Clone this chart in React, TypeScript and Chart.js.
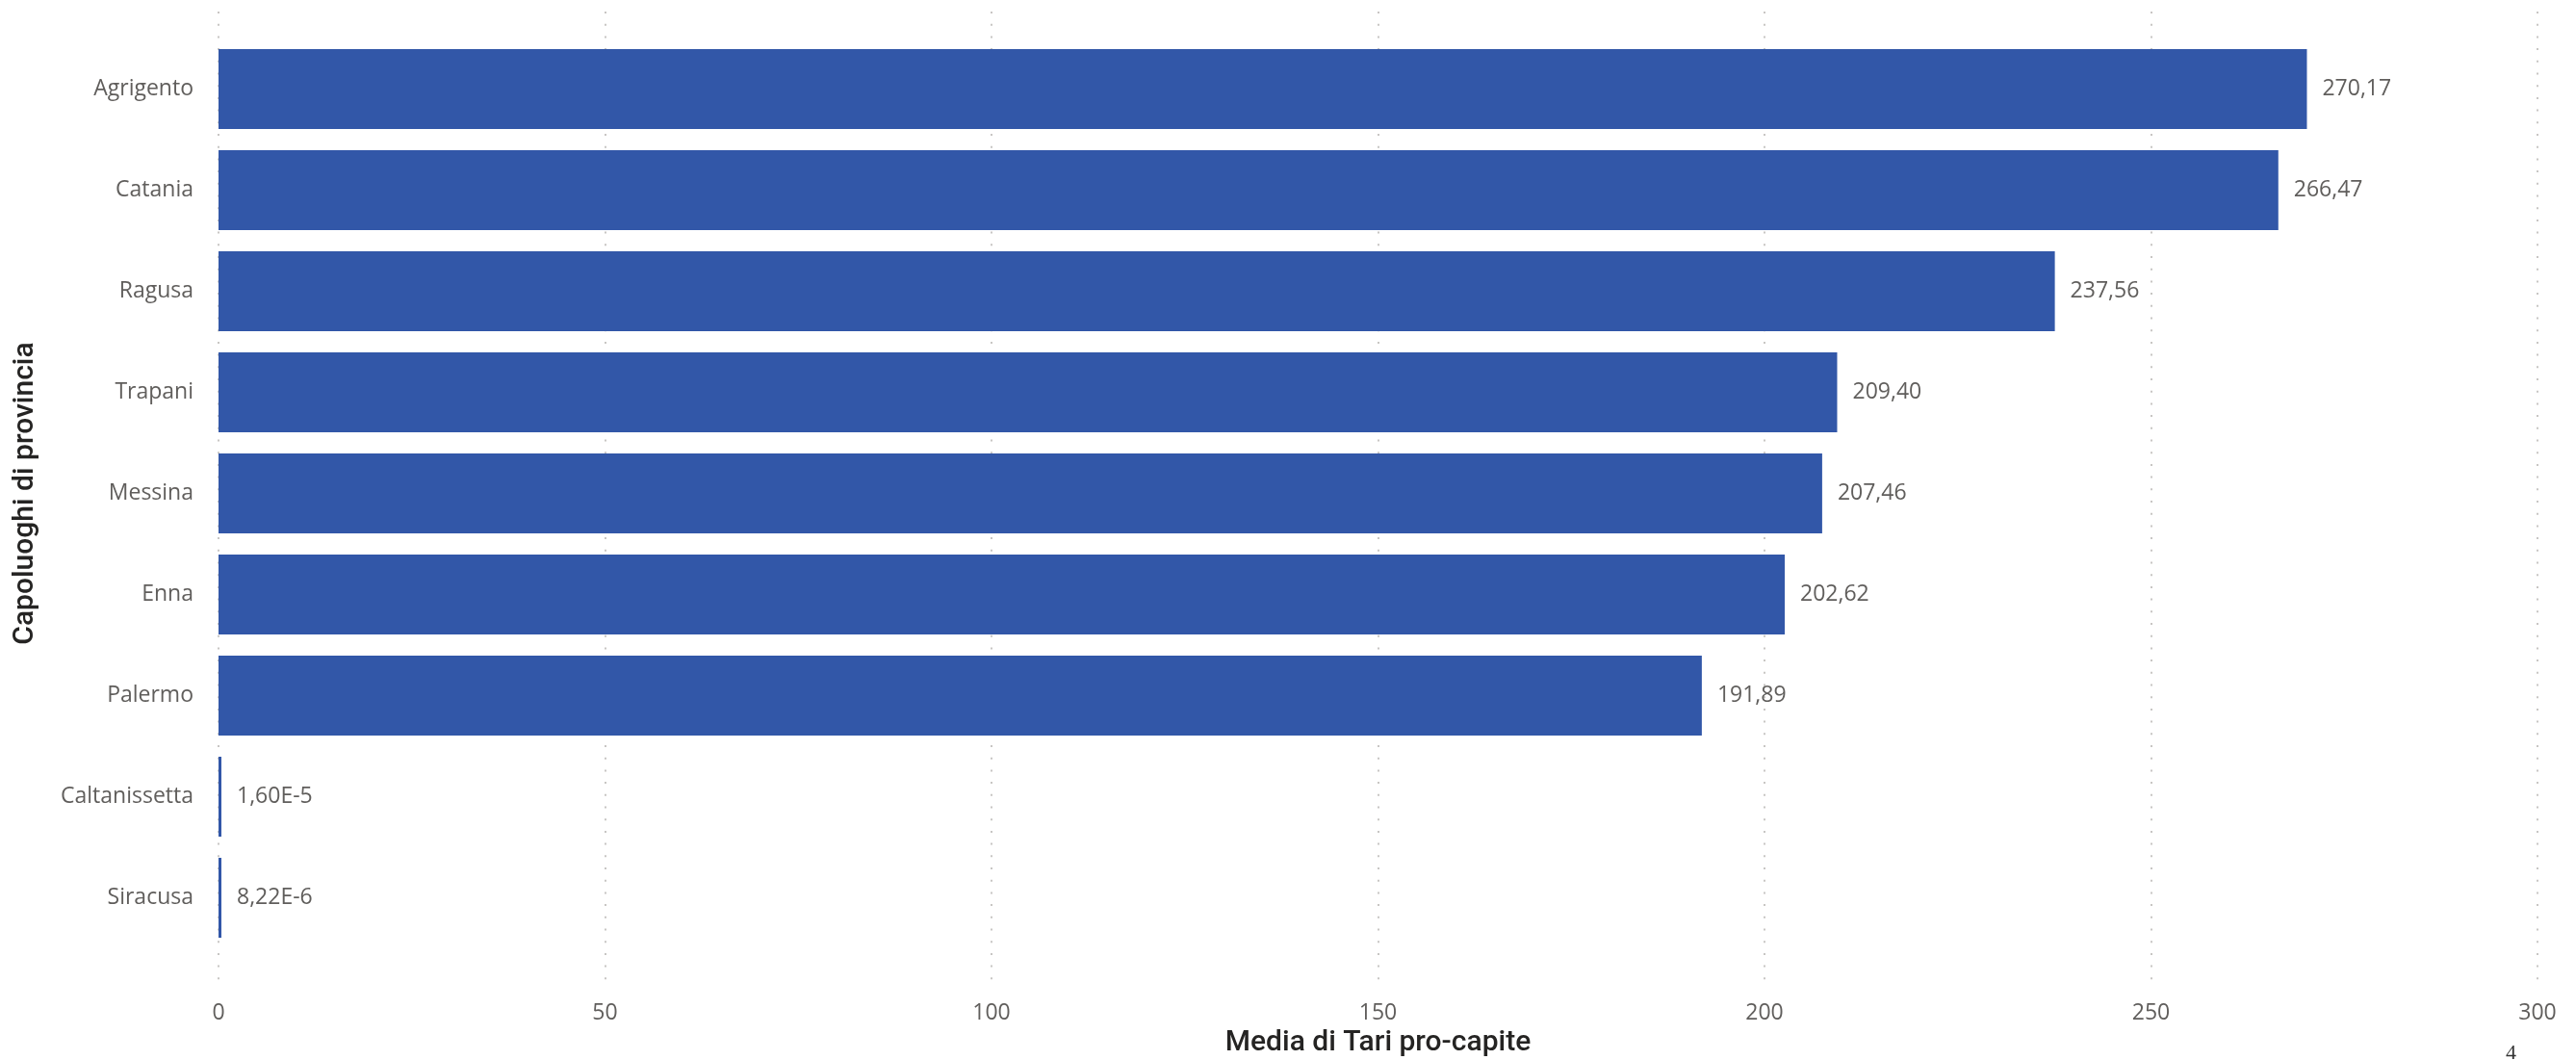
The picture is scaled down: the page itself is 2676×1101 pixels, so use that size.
import React, { useEffect, useRef } from 'react';
import { Chart, registerables } from 'chart.js';

Chart.register(...registerables);

const categories = ['Agrigento', 'Catania', 'Ragusa', 'Trapani', 'Messina', 'Enna', 'Palermo', 'Caltanissetta', 'Siracusa'];
const values = [270.17, 266.47, 237.56, 209.4, 207.46, 202.62, 191.89, 0.000016, 0.00000822];
const xTicks = [0, 50, 100, 150, 200, 250, 300];
const xTitle = 'Media di Tari pro-capite';
const yTitle = 'Capoluoghi di provincia';
const pageNumber = '4';

const BAR_COLOR = '#3257A8';
const LABEL_COLOR = '#605E5C';
const TITLE_COLOR = '#252423';
const LABEL_FONT = "'Open Sans', 'Noto Sans', sans-serif";
const TITLE_FONT = "Roboto, 'DejaVu Sans', sans-serif";
const LABEL_SIZE = 23;

function fmt(v: number): string {
  if (v < 0.01) {
    const [m, e] = v.toExponential(2).split('e');
    return m.replace('.', ',') + 'E' + e;
  }
  return v.toFixed(2).replace('.', ',');
}

const dottedGrid = {
  id: 'dottedGrid',
  beforeDatasetsDraw(chart: any) {
    const { ctx, chartArea, scales } = chart;
    const x = scales.x;
    ctx.save();
    ctx.strokeStyle = '#c8c6c4';
    ctx.lineWidth = 2;
    ctx.setLineDash([2, 10.7]);
    for (const t of xTicks) {
      const px = Math.round(x.getPixelForValue(t));
      ctx.beginPath();
      ctx.moveTo(px, chartArea.top - 28);
      ctx.lineTo(px, chartArea.bottom + 34);
      ctx.stroke();
    }
    ctx.restore();
  },
};

const dataLabels = {
  id: 'dataLabels',
  afterDatasetsDraw(chart: any) {
    const { ctx } = chart;
    const meta = chart.getDatasetMeta(0);
    ctx.save();
    ctx.font = `${LABEL_SIZE}px ${LABEL_FONT}`;
    ctx.fillStyle = LABEL_COLOR;
    ctx.textAlign = 'left';
    ctx.textBaseline = 'middle';
    meta.data.forEach((el: any, i: number) => {
      ctx.fillText(fmt(values[i]), el.x + 16, el.y);
    });
    ctx.restore();
  },
};

export default function App() {
  const ref = useRef<HTMLCanvasElement | null>(null);

  useEffect(() => {
    if (!ref.current) return;
    const chart = new Chart(ref.current, {
      type: 'bar',
      data: {
        labels: categories,
        datasets: [
          {
            data: values,
            backgroundColor: BAR_COLOR,
            borderWidth: 0,
            minBarLength: 3,
            barPercentage: 0.79,
            categoryPercentage: 1,
          },
        ],
      },
      options: {
        indexAxis: 'y',
        responsive: false,
        devicePixelRatio: 1,
        animation: false,
        layout: { padding: { top: 40, right: 40, left: 0, bottom: 0 } },
        plugins: {
          legend: { display: false },
          tooltip: { enabled: false },
        },
        scales: {
          x: {
            type: 'linear',
            min: 0,
            max: 300,
            afterBuildTicks: (scale: any) => {
              scale.ticks = xTicks.map((v) => ({ value: v }));
            },
            afterFit: (scale: any) => {
              scale.height = 116;
              scale.paddingLeft = 0;
              scale.paddingRight = 0;
            },
            grid: { display: false },
            border: { display: false },
            ticks: {
              padding: 46,
              color: LABEL_COLOR,
              font: { family: LABEL_FONT, size: LABEL_SIZE },
              callback: (v: any) => String(v),
            },
            title: {
              display: true,
              text: xTitle,
              color: TITLE_COLOR,
              font: { family: TITLE_FONT, size: 30, weight: '500', lineHeight: 1.1 },
              padding: { top: 0, bottom: 1 },
            },
          },
          y: {
            type: 'category',
            afterFit: (scale: any) => {
              scale.width = 227;
            },
            grid: { display: false },
            border: { display: false },
            ticks: {
              padding: 18,
              color: LABEL_COLOR,
              font: { family: LABEL_FONT, size: LABEL_SIZE },
            },
            title: {
              display: true,
              text: yTitle,
              color: TITLE_COLOR,
              font: { family: TITLE_FONT, size: 30, weight: '500', lineHeight: 1.1 },
              padding: { top: 10, bottom: 0 },
            },
          },
        },
      },
      plugins: [dottedGrid, dataLabels],
    } as any);
    return () => chart.destroy();
  }, []);

  return (
    <div style={{ position: 'absolute', left: 0, top: 0, width: 2676, height: 1101, background: '#fff', overflow: 'hidden' }}>
      <canvas ref={ref} width={2676} height={1101} style={{ display: 'block' }} />
      <div
        style={{
          position: 'absolute',
          left: 2603,
          top: 1078,
          fontFamily: "'Liberation Serif', 'DejaVu Serif', serif",
          fontSize: 22,
          color: '#333',
          lineHeight: '30px',
        }}
      >
        {pageNumber}
      </div>
    </div>
  );
}
